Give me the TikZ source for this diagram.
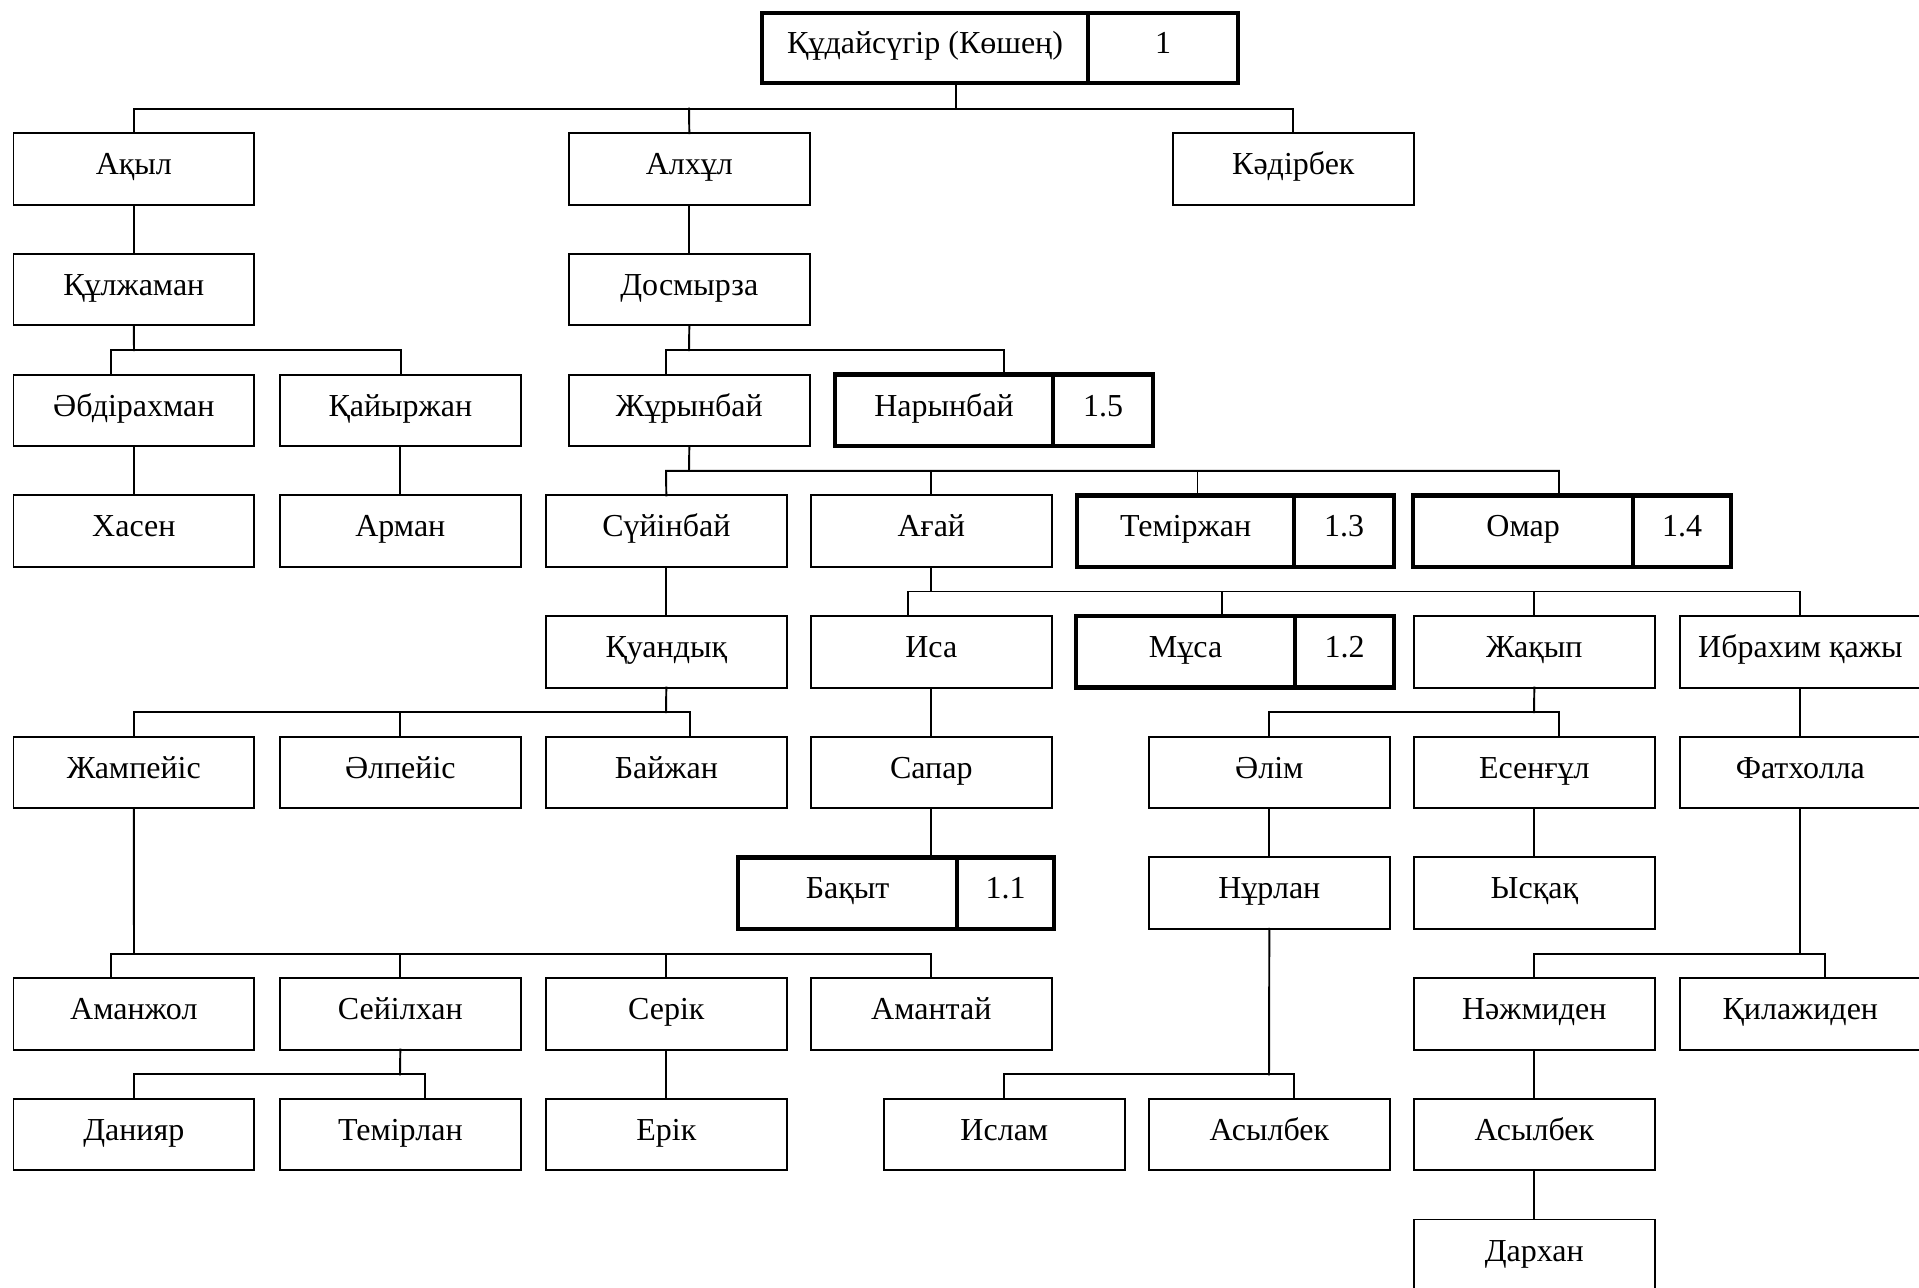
\documentclass[tikz,border=0pt]{standalone}
\usepackage{fontspec}
\setmainfont{Liberation Serif}
\begin{document}
\begin{tikzpicture}[x=0.01cm, y=-0.01cm,
  pbox/.style={draw, line width=0.55pt, rectangle, minimum width=2.405cm, minimum height=0.715cm,
    inner sep=0pt, outer sep=0pt, anchor=north west, text height=0.2cm, text depth=0.085cm,
    font=\fontsize{9.1pt}{11pt}\selectfont},
  thk/.style={pbox, line width=1.3pt},
  link/.style={line width=0.55pt, line cap=rect}]
\useasboundingbox (0,0) rectangle (1919,1287);
% row 0
\node[thk, minimum width=3.26cm, minimum height=0.70cm] (top1) at (762,13) {Құдайсүгір (Көшең)};
\node[thk, minimum width=1.50cm, minimum height=0.70cm] (top2) at (1088,13) {1};
% row 1
\node[pbox] (akyl) at (13.5,133.2) {Ақыл};
\node[pbox] (alkhul) at (569,133.2) {Алхұл};
\node[pbox] (kadir) at (1173,133.2) {Кәдірбек};
% row 2
\node[pbox] (kulzh) at (13.5,253.9) {Құлжаман};
\node[pbox] (dosm) at (569,253.9) {Досмырза};
% row 3
\node[pbox] (abd) at (13.5,374.6) {Әбдірахман};
\node[pbox] (kaiyr) at (280,374.6) {Қайыржан};
\node[pbox] (zhur) at (569,374.6) {Жұрынбай};
\node[thk, minimum width=2.18cm] (naryn) at (835,374.6) {Нарынбай};
\node[thk, minimum width=1.00cm] (narynN) at (1053,374.6) {1.5};
% row 4
\node[pbox] (hasen) at (13.5,495.3) {Хасен};
\node[pbox] (arman) at (280,495.3) {Арман};
\node[pbox] (suiin) at (546,495.3) {Сүйінбай};
\node[pbox] (agai) at (811,495.3) {Ағай};
\node[thk, minimum width=2.17cm] (temir) at (1077,495.3) {Теміржан};
\node[thk, minimum width=1.00cm] (temirN) at (1294,495.3) {1.3};
\node[thk, minimum width=2.20cm] (omar) at (1413,495.3) {Омар};
\node[thk, minimum width=0.98cm] (omarN) at (1633,495.3) {1.4};
% row 5
\node[pbox] (kuan) at (546,616) {Қуандық};
\node[pbox] (isa) at (811,616) {Иса};
\node[thk, minimum width=2.19cm] (musa) at (1076,616) {Мұса};
\node[thk, minimum width=0.99cm] (musaN) at (1295,616) {1.2};
\node[pbox] (zhakyp) at (1414,616) {Жақып};
\node[pbox] (ibr) at (1680,616) {Ибрахим қажы};
% row 6
\node[pbox] (zhamp) at (13.5,736.7) {Жампейіс};
\node[pbox] (alp) at (280,736.7) {Әлпейіс};
\node[pbox] (baizh) at (546,736.7) {Байжан};
\node[pbox] (sapar) at (811,736.7) {Сапар};
\node[pbox] (alim) at (1149,736.7) {Әлім};
\node[pbox] (esen) at (1414,736.7) {Есенғұл};
\node[pbox] (fath) at (1680,736.7) {Фатхолла};
% row 7
\node[thk, minimum width=2.19cm] (bakyt) at (738,857.4) {Бақыт};
\node[thk, minimum width=0.97cm] (bakytN) at (957,857.4) {1.1};
\node[pbox] (nurlan) at (1149,857.4) {Нұрлан};
\node[pbox] (yskak) at (1414,857.4) {Ысқақ};
% row 8
\node[pbox] (amanzh) at (13.5,978.1) {Аманжол};
\node[pbox] (seil) at (280,978.1) {Сейілхан};
\node[pbox] (serik) at (546,978.1) {Серік};
\node[pbox] (amant) at (811,978.1) {Амантай};
\node[pbox] (nazhm) at (1414,978.1) {Нәжмиден};
\node[pbox] (kilazh) at (1680,978.1) {Қилажиден};
% row 9
\node[pbox] (daniyar) at (13.5,1098.8) {Данияр};
\node[pbox] (temirlan) at (280,1098.8) {Темірлан};
\node[pbox] (erik) at (546,1098.8) {Ерік};
\node[pbox] (islam) at (884,1098.8) {Ислам};
\node[pbox] (asyl1) at (1149,1098.8) {Асылбек};
\node[pbox] (asyl2) at (1414,1098.8) {Асылбек};
% row 10
\node[pbox] (darkhan) at (1414,1219.5) {Дархан};

% connectors
% top family
\draw[link] (top1.south -| 956,0) -- (956,108.7);
\draw[link] (akyl.north -| 134,0) -- (134,108.7) -- (1293,108.7) -- (kadir.north -| 1293,0);
\draw[link] (689,108.7) -- (alkhul.north);
% Akyl line
\draw[link] (akyl.south) -- (kulzh.north);
\draw[link] (kulzh.south) -- (134,350.1);
\draw[link] (abd.north -| 111,0) -- (111,350.1) -- (401,350.1) -- (kaiyr.north -| 401,0);
\draw[link] (abd.south) -- (hasen.north);
\draw[link] (kaiyr.south) -- (arman.north);
% Alkhul line
\draw[link] (alkhul.south) -- (dosm.north);
\draw[link] (dosm.south) -- (689,350.1);
\draw[link] (zhur.north -| 666,0) -- (666,350.1) -- (1004,350.1) -- (naryn.north -| 1004,0);
\draw[link] (zhur.south) -- (689,470.8);
\draw[link] (suiin.north) -- (666,470.8) -- (1559,470.8) -- (omar.north -| 1559,0);
\draw[link] (931,470.8) -- (agai.north -| 931,0);
\draw[link] (1197.5,470.8) -- (temir.north -| 1197.5,0);
\draw[link] (suiin.south) -- (kuan.north);
% Agai family
\draw[link] (agai.south -| 931,0) -- (931,591.5);
\draw[link] (isa.north -| 908,0) -- (908,591.5) -- (1800,591.5) -- (ibr.north -| 1800,0);
\draw[link] (1222,591.5) -- (musa.north -| 1222,0);
\draw[link] (1534,591.5) -- (zhakyp.north -| 1534,0);
% Kuandyk family
\draw[link] (kuan.south) -- (666,712.2);
\draw[link] (zhamp.north -| 134,0) -- (134,712.2) -- (690,712.2) -- (baizh.north -| 690,0);
\draw[link] (400,712.2) -- (alp.north -| 400,0);
% Isa, Sapar
\draw[link] (isa.south -| 931,0) -- (sapar.north -| 931,0);
\draw[link] (sapar.south -| 931,0) -- (bakyt.north -| 931,0);
% Zhakyp family
\draw[link] (zhakyp.south) -- (1534,712.2);
\draw[link] (alim.north -| 1269,0) -- (1269,712.2) -- (1559,712.2) -- (esen.north -| 1559,0);
\draw[link] (alim.south) -- (nurlan.north);
\draw[link] (esen.south) -- (yskak.north);
% Ibrahim
\draw[link] (ibr.south -| 1800,0) -- (fath.north -| 1800,0);
\draw[link] (fath.south -| 1800,0) -- (1800,953.6);
\draw[link] (nazhm.north -| 1534,0) -- (1534,953.6) -- (1825,953.6) -- (kilazh.north -| 1825,0);
\draw[link] (nazhm.south) -- (asyl2.north);
\draw[link] (asyl2.south) -- (darkhan.north);
% Zhampeis family
\draw[link] (zhamp.south) -- (134,953.6);
\draw[link] (amanzh.north -| 111,0) -- (111,953.6) -- (931,953.6) -- (amant.north -| 931,0);
\draw[link] (400,953.6) -- (seil.north -| 400,0);
\draw[link] (666,953.6) -- (serik.north -| 666,0);
% Seilkhan family
\draw[link] (seil.south) -- (400,1074.3);
\draw[link] (daniyar.north -| 134,0) -- (134,1074.3) -- (425,1074.3) -- (temirlan.north -| 425,0);
\draw[link] (serik.south) -- (erik.north);
% Nurlan family
\draw[link] (nurlan.south) -- (1269,1074.3);
\draw[link] (islam.north -| 1004,0) -- (1004,1074.3) -- (1294,1074.3) -- (asyl1.north -| 1294,0);
\end{tikzpicture}
\end{document}
